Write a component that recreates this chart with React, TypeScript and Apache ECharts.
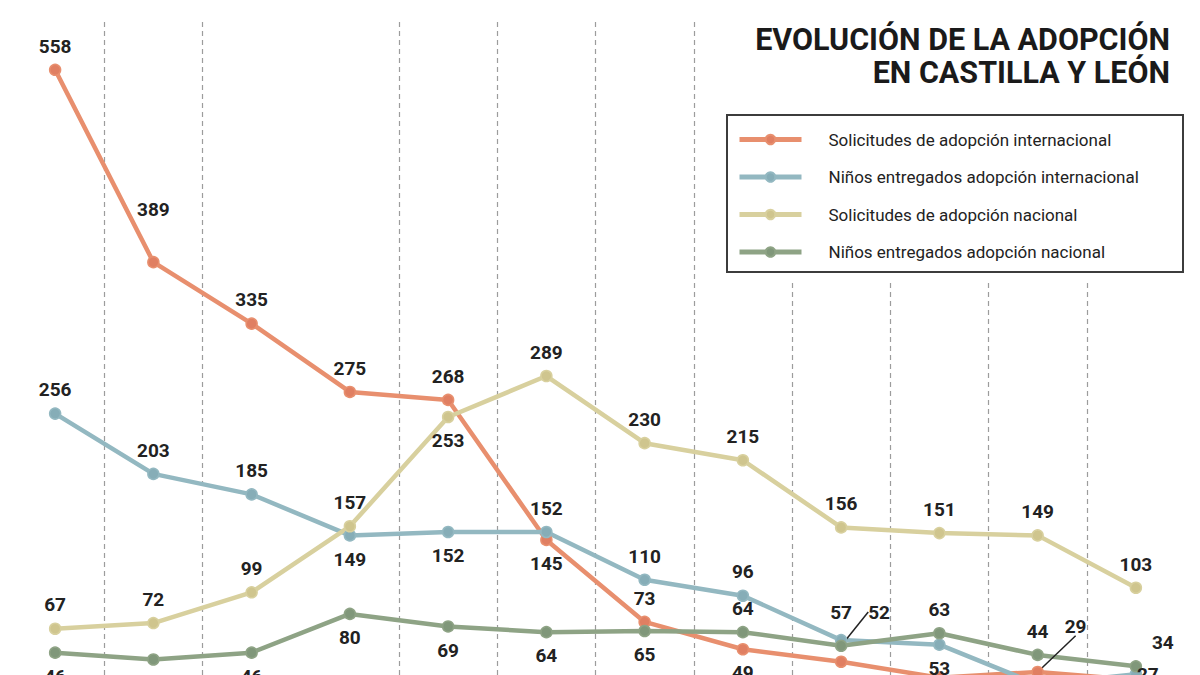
import React, { useEffect, useRef } from "react";
import * as echarts from "echarts";

// ---- data ----
const periods = ["1", "2", "3", "4", "5", "6", "7", "8", "9", "10", "11", "12"];
const seriesNames = [
  "Solicitudes de adopción internacional",
  "Niños entregados adopción internacional",
  "Solicitudes de adopción nacional",
  "Niños entregados adopción nacional",
];
const solicitudesInternacional = [558, 389, 335, 275, 268, 145, 73, 49, 38, 24, 29, 22];
const entregadosInternacional = [256, 203, 185, 149, 152, 152, 110, 96, 57, 53, 18, 27];
const solicitudesNacional = [67, 72, 99, 157, 253, 289, 230, 215, 156, 151, 149, 103];
const entregadosNacional = [46, 40, 46, 80, 69, 64, 65, 64, 52, 63, 44, 34];

// ---- label placement (style) ----
const placeSI = ["t", "t", "t", "t", "t", "b", "t", "b", "b", "b", "t", "b"];
const placeEI = ["t", "t", "t", "b", "b", "t", "t", "t", "t", "b", "b", "t"];
const placeSN = ["t", "t", "t", "t", "b", "t", "t", "t", "t", "t", "t", "t"];
const placeEN = ["b", "b", "b", "b", "b", "b", "b", "t", "t", "t", "t", "t"];
// label shifts keyed "series-index"
const labelShift: Record<string, { dx: number; dy: number }> = {
  "0-1": { dx: 0, dy: -29 },
  "0-10": { dx: 38, dy: -22 },
  "3-8": { dx: 38, dy: -10 },
  "1-8": { dx: 0, dy: -4 },
  "3-11": { dx: 27, dy: 0 },
  "1-11": { dx: 12, dy: 24 },
};
const leaders = ["0-10", "3-8"];

const colors = ["#E88F6E", "#93B8C1", "#D8D09E", "#8EA385"];
const dotColors = ["#E07F62", "#86ADB7", "#CFC58E", "#80977A"];
const FONT = "Roboto, 'Noto Sans', sans-serif";

function buildData(values: number[], places: string[], s: number) {
  return values.map((v, i) => {
    const item: any = { value: v, label: { position: places[i] === "b" ? "bottom" : "top" } };
    if (leaders.includes(`${s}-${i}`)) {
      item.labelLine = { show: true, lineStyle: { color: "#222", width: 1.5 } };
    }
    return item;
  });
}

export default function App() {
  const ref = useRef<HTMLDivElement>(null);
  useEffect(() => {
    const chart = echarts.init(ref.current!, null, { renderer: "svg" });
    const all = [solicitudesInternacional, entregadosInternacional, solicitudesNacional, entregadosNacional];
    const places = [placeSI, placeEI, placeSN, placeEN];
    chart.setOption({
      animation: false,
      backgroundColor: "#ffffff",
      grid: { left: 6, right: 15, top: 22, height: 683 },
      xAxis: {
        type: "category",
        data: periods,
        boundaryGap: true,
        axisLine: { show: false },
        axisTick: { show: false },
        axisLabel: { show: false },
        splitLine: {
          show: true,
          showMinLine: false,
          showMaxLine: false,
          interval: (i: number) => i !== 3,
          lineStyle: { color: "#9c9c9c", width: 1.2, type: [5, 4] },
        },
      },
      yAxis: { type: "value", min: 0, max: 600, show: false, splitLine: { show: false } },
      legend: {
        orient: "vertical",
        left: 732,
        top: 126,
        itemWidth: 62,
        itemHeight: 12,
        itemGap: 20.5,
        lineStyle: { width: 5 },
        textStyle: { fontFamily: FONT, fontSize: 17, color: "#222", padding: [0, 0, 0, 22] },
        data: seriesNames,
        z: 5,
      },
      graphic: [
        { type: "rect", z: 1, shape: { x: 740, y: 0, width: 460, height: 283 }, style: { fill: "#fff" } },
        {
          type: "rect",
          z: 2,
          shape: { x: 727, y: 115, width: 456, height: 157 },
          style: { fill: "#fff", stroke: "#3c3c3c", lineWidth: 2 },
        },
        {
          type: "text",
          z: 10,
          right: 30,
          top: 23,
          style: {
            text: "EVOLUCIÓN DE LA ADOPCIÓN\nEN CASTILLA Y LEÓN",
            textAlign: "right",
            font: `bold 30.5px ${FONT}`,
            lineHeight: 33,
            fill: "#1a1a1a",
          },
        },
      ],
      series: all.map((vals, s) => ({
        name: seriesNames[s],
        type: "line",
        z: 3,
        data: buildData(vals, places[s], s),
        symbol: "circle",
        symbolSize: 11,
        lineStyle: { color: colors[s], width: 4.5 },
        itemStyle: { color: dotColors[s], borderColor: colors[s], borderWidth: 1.5 },
        label: {
          show: true,
          distance: 8,
          fontFamily: FONT,
          fontSize: 19,
          fontWeight: "bold",
          color: "#222",
        },
        labelLayout: (p: any) => {
          const k = `${s}-${p.dataIndex}`;
          return labelShift[k] ? labelShift[k] : {};
        },
      })),
    });
    return () => chart.dispose();
  }, []);
  return (
    <div style={{ position: "fixed", left: 0, top: 0, width: 1200, height: 675, overflow: "hidden", background: "#fff" }}>
      <div ref={ref} style={{ width: 1200, height: 720 }} />
    </div>
  );
}
